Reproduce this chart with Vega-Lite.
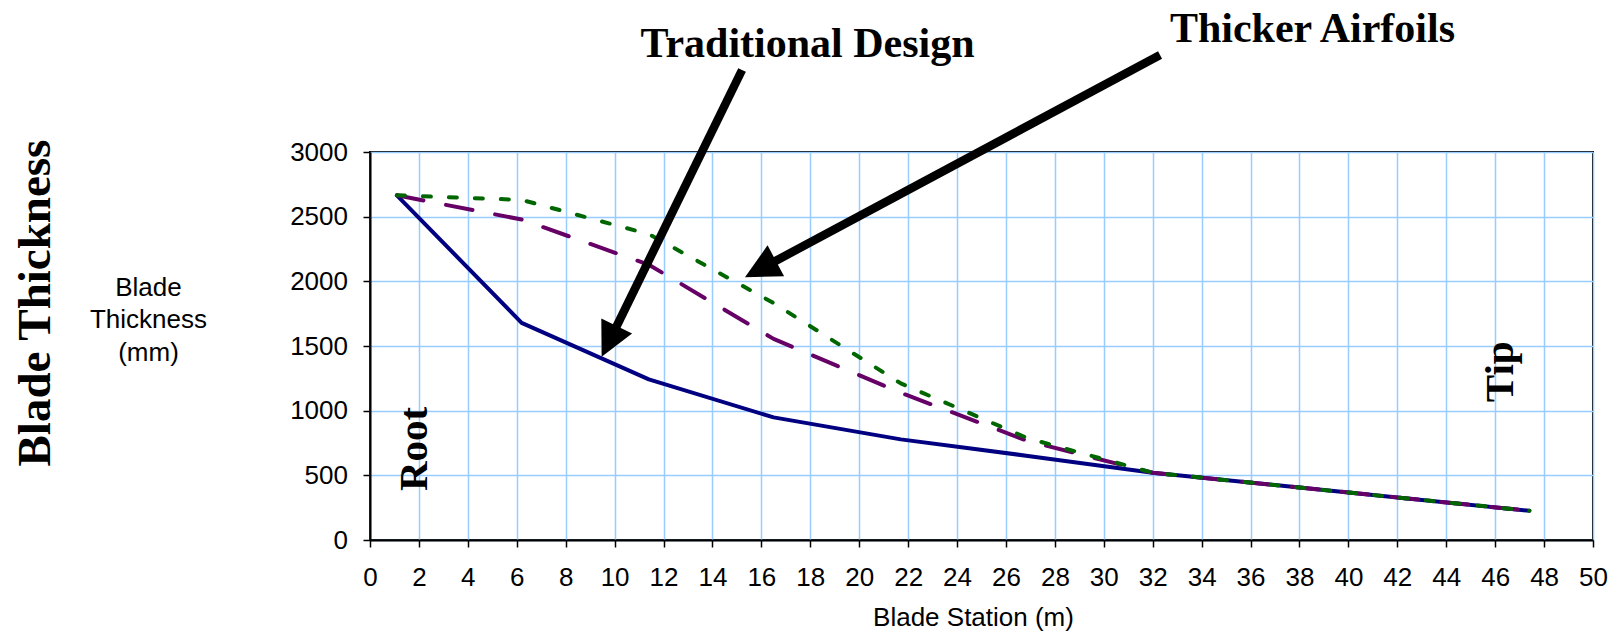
{
  "$schema": "https://vega.github.io/schema/vega-lite/v6.json",
  "width": 1223,
  "height": 388,
  "autosize": {"type": "none"},
  "padding": {"left": 370, "top": 152, "right": 21, "bottom": 91},
  "background": "white",
  "config": {
    "view": {"stroke": "black", "strokeWidth": 2},
    "axis": {
      "domainColor": "black",
      "domainWidth": 2,
      "tickColor": "black",
      "tickWidth": 1.5,
      "tickSize": 7,
      "gridColor": "#99CCFF",
      "gridWidth": 1.5,
      "gridOpacity": 1,
      "labelFont": "Liberation Sans",
      "labelFontSize": 26,
      "labelColor": "black",
      "labelFlush": false,
      "labelOverlap": false,
      "labelBound": false,
      "titleFont": "Liberation Sans",
      "titleFontSize": 26,
      "titleFontWeight": "normal",
      "titleColor": "black"
    }
  },
  "encoding": {
    "x": {
      "field": "x",
      "type": "quantitative",
      "scale": {"domain": [0, 50], "nice": false, "zero": false},
      "axis": {
        "values": [0, 2, 4, 6, 8, 10, 12, 14, 16, 18, 20, 22, 24, 26, 28, 30, 32, 34, 36, 38, 40, 42, 44, 46, 48, 50],
        "format": "d",
        "title": "Blade Station (m)",
        "titleX": 603,
        "titleY": 85,
        "titleAlign": "center",
        "titleBaseline": "alphabetic",
        "labelPadding": 17.5
      }
    },
    "y": {
      "field": "y",
      "type": "quantitative",
      "scale": {"domain": [0, 3000], "nice": false},
      "axis": {
        "values": [0, 500, 1000, 1500, 2000, 2500, 3000],
        "format": "d",
        "title": ["Blade", "Thickness", "(mm)"],
        "titleAngle": 0,
        "titleX": -222,
        "titleY": 143,
        "titleAlign": "center",
        "titleBaseline": "alphabetic",
        "titleLineHeight": 32.5,
        "labelPadding": 15.5
      }
    }
  },
  "layer": [
    {
      "data": {"values": [
        {"x": 1.1, "y": 2665}, {"x": 6.2, "y": 1679}, {"x": 11.4, "y": 1242}, {"x": 16.5, "y": 948},
        {"x": 21.7, "y": 778}, {"x": 26.9, "y": 650}, {"x": 32.0, "y": 520}, {"x": 37.2, "y": 421},
        {"x": 42.3, "y": 323}, {"x": 47.4, "y": 226}
      ]},
      "mark": {"type": "line", "color": "#000080", "strokeWidth": 4, "strokeJoin": "round", "strokeCap": "round"}
    },
    {
      "data": {"values": [
        {"x": 1.1, "y": 2665}, {"x": 6.2, "y": 2478}, {"x": 11.4, "y": 2128}, {"x": 16.5, "y": 1555},
        {"x": 21.7, "y": 1138}, {"x": 26.9, "y": 765}, {"x": 32.0, "y": 520}, {"x": 37.2, "y": 421},
        {"x": 42.3, "y": 323}, {"x": 47.4, "y": 226}
      ]},
      "mark": {"type": "line", "color": "#660066", "strokeWidth": 4, "strokeJoin": "round", "strokeCap": "round", "strokeDash": [27, 23]}
    },
    {
      "data": {"values": [
        {"x": 1.1, "y": 2665}, {"x": 6.2, "y": 2630}, {"x": 11.4, "y": 2365}, {"x": 16.5, "y": 1832},
        {"x": 21.7, "y": 1211}, {"x": 26.9, "y": 786}, {"x": 32.0, "y": 520}, {"x": 37.2, "y": 421},
        {"x": 42.3, "y": 323}, {"x": 47.4, "y": 226}
      ]},
      "mark": {"type": "line", "color": "#006600", "strokeWidth": 4, "strokeJoin": "round", "strokeCap": "round", "strokeDash": [8, 18]}
    },
    {
      "data": {"values": [
        {"x": 15.21, "y": 3634, "x2": 9.83, "y2": 1556},
        {"x": 32.3, "y": 3750, "x2": 16.05, "y2": 2104}
      ]},
      "mark": {"type": "rule", "color": "black", "strokeWidth": 8.5, "strokeCap": "butt"},
      "encoding": {"x2": {"field": "x2"}, "y2": {"field": "y2"}}
    },
    {
      "data": {"values": [{"x": 9.47, "y": 1417}]},
      "mark": {"type": "point", "shape": "M0,0L-0.5,1L0.5,1Z", "filled": true, "color": "black", "opacity": 1, "size": 4700, "angle": 206.1, "strokeWidth": 0}
    },
    {
      "data": {"values": [{"x": 15.33, "y": 2031}]},
      "mark": {"type": "point", "shape": "M0,0L-0.5,1L0.5,1Z", "filled": true, "color": "black", "opacity": 1, "size": 4900, "angle": 241.8, "strokeWidth": 0}
    },
    {
      "data": {"values": [
        {"x": 17.89, "y": 3732, "label": "Traditional Design"},
        {"x": 38.53, "y": 3853, "label": "Thicker Airfoils"}
      ]},
      "mark": {"type": "text", "font": "Liberation Serif", "fontWeight": "bold", "fontSize": 42, "align": "center", "baseline": "alphabetic", "color": "black"},
      "encoding": {"text": {"field": "label"}}
    },
    {
      "data": {"values": [
        {"x": 2.32, "y": 704, "label": "Root"},
        {"x": 46.72, "y": 1301, "label": "Tip"}
      ]},
      "mark": {"type": "text", "font": "Liberation Serif", "fontWeight": "bold", "fontSize": 41, "align": "center", "baseline": "alphabetic", "angle": 270, "color": "black"},
      "encoding": {"text": {"field": "label"}}
    },
    {
      "data": {"values": [
        {"x": -13.08, "y": 1832, "label": "Blade Thickness"}
      ]},
      "mark": {"type": "text", "font": "Liberation Serif", "fontWeight": "bold", "fontSize": 47, "align": "center", "baseline": "alphabetic", "angle": 270, "color": "black"},
      "encoding": {"text": {"field": "label"}}
    }
  ]
}
